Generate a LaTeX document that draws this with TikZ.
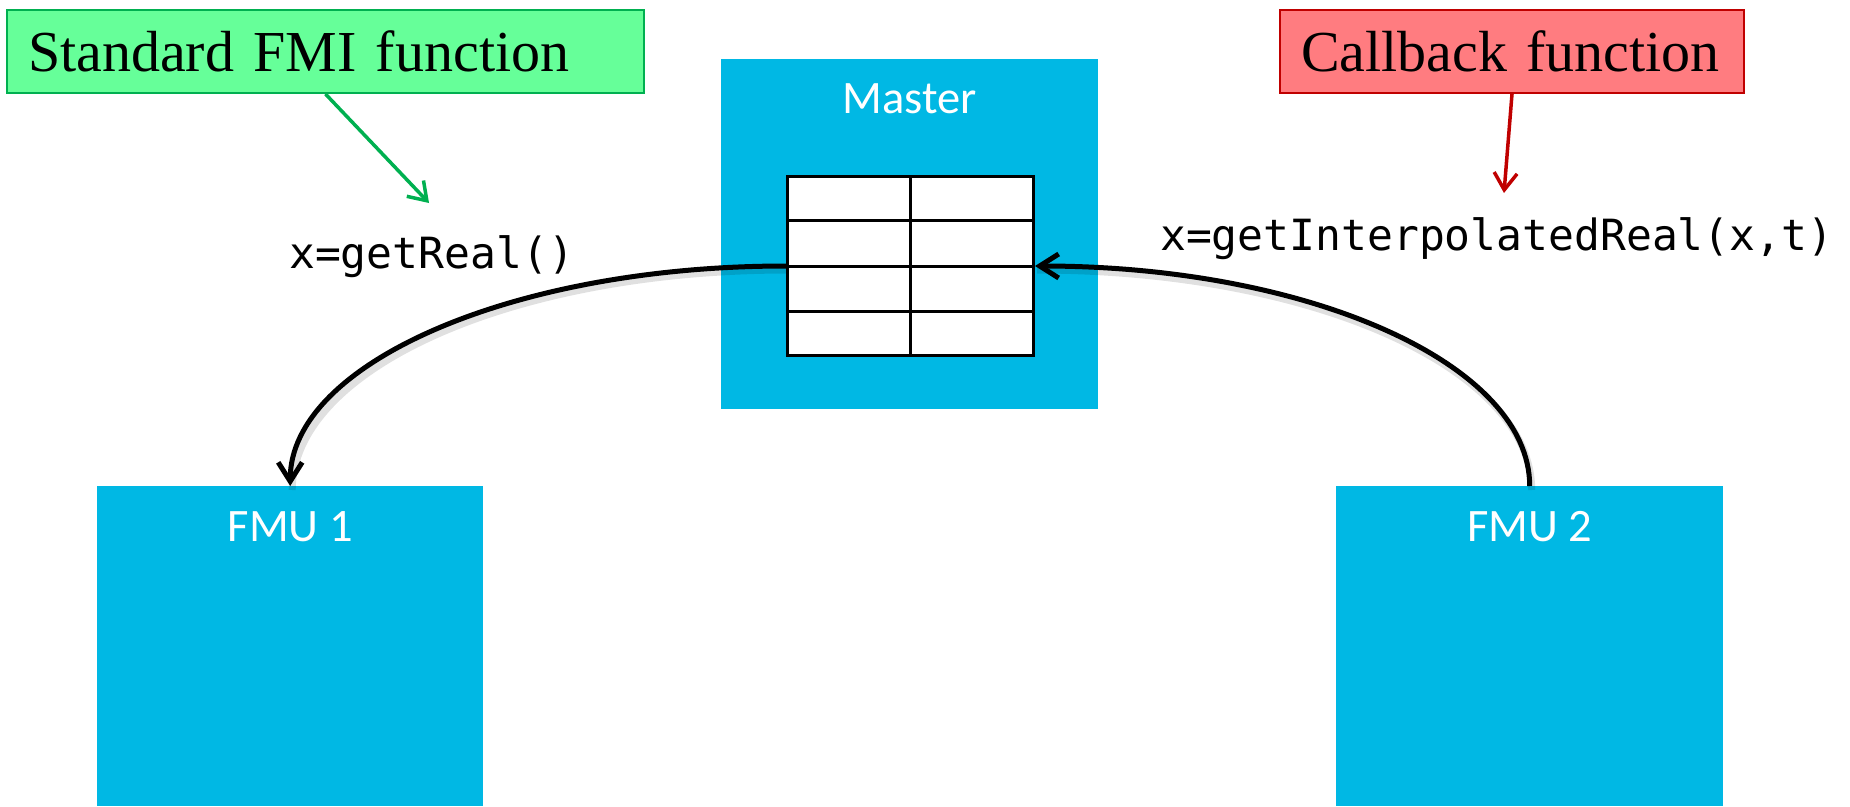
\documentclass[tikz,border=0pt]{standalone}
\usepackage{fontspec}
\setmainfont{Liberation Serif}
\setmonofont{DejaVu Sans Mono}
\newfontfamily\calibfont{Carlito}
\usetikzlibrary{arrows.meta,calc}

\definecolor{fmublue}{RGB}{0,184,228}
\definecolor{notegreen}{RGB}{102,255,153}
\definecolor{noteedgegreen}{RGB}{0,176,80}
\definecolor{notered}{RGB}{255,124,128}
\definecolor{noteedgered}{RGB}{192,0,0}

\begin{document}
\begin{tikzpicture}[x=1pt,y=-1pt,
  block/.style={fill=fmublue, draw=none, anchor=north west, inner sep=0pt},
  blocklabel/.style={text=white, font=\calibfont\fontsize{46.5}{50}\selectfont, anchor=base, inner sep=0pt},
  note/.style={anchor=north west, line width=2pt, font=\fontsize{58}{62}\selectfont,
    inner xsep=21pt, inner ysep=0pt, minimum height=83pt, align=left},
  code/.style={font=\ttfamily\fontsize{43}{46}\selectfont, anchor=base west, inner sep=0pt},
  tablecell/.style={line width=3pt},
  conn/.style={line width=5pt, -{Straight Barb[length=19pt,width=24pt]},
    preaction={-, draw=black, line width=7pt, opacity=0.12,
      transform canvas={shift={(2pt,-4pt)}}}},
  pointer/.style={line width=3.5pt, -{Straight Barb[length=17pt,width=23pt]}}
]
\useasboundingbox (0,0) rectangle (1850,806);

% master with its exchange table
\node[block, minimum width=377pt, minimum height=350pt] (master) at (721,59) {};
\node[blocklabel] (mastertitle) at (909.5,113) {Master};
\node[draw, tablecell, fill=white, minimum width=246pt, minimum height=179pt,
      anchor=north west, inner sep=0pt] (table) at (786,175) {};
\draw[tablecell] (table.north) -- (table.south);
\foreach \f in {0.25,0.5,0.75}
  \draw[tablecell] ($(table.north west)!\f!(table.south west)$) --
                   ($(table.north east)!\f!(table.south east)$);

% the two FMUs
\node[block, minimum width=386pt, minimum height=320pt] (fmu1) at (97,486) {};
\node[blocklabel] (fmu1title) at (fmu1.north |- 0,541) {FMU 1};
\node[block, minimum width=387pt, minimum height=320pt] (fmu2) at (1336,486) {};
\node[blocklabel] (fmu2title) at (fmu2.north |- 0,541) {FMU 2};

% data flow
\draw[conn] (table.west) .. controls +(-274,0) and +(0,-122) .. (fmu1.north);
\draw[conn] (fmu2.north) .. controls +(0,-122) and +(274,0) .. (table.east);

% function calls
\node[code] (getreal) at (289,268) {x=getReal()};
\node[code] (getinterp) at (1160,250) {x=getInterpolatedReal(x,t)};

% annotations
\node[note, draw=noteedgegreen, fill=notegreen, text width=595pt] (std) at (6,9)
  {Standard FMI function};
\node[note, draw=noteedgered, fill=notered, text width=422pt] (cb) at (1279,9)
  {Callback function};
\coordinate (stdtip) at (429,203);
\coordinate (cbtip) at (1504,193);
\draw[pointer, noteedgegreen] (std.south) -- (stdtip);
\draw[pointer, noteedgered] (cb.south) -- (cbtip);
\end{tikzpicture}
\end{document}
